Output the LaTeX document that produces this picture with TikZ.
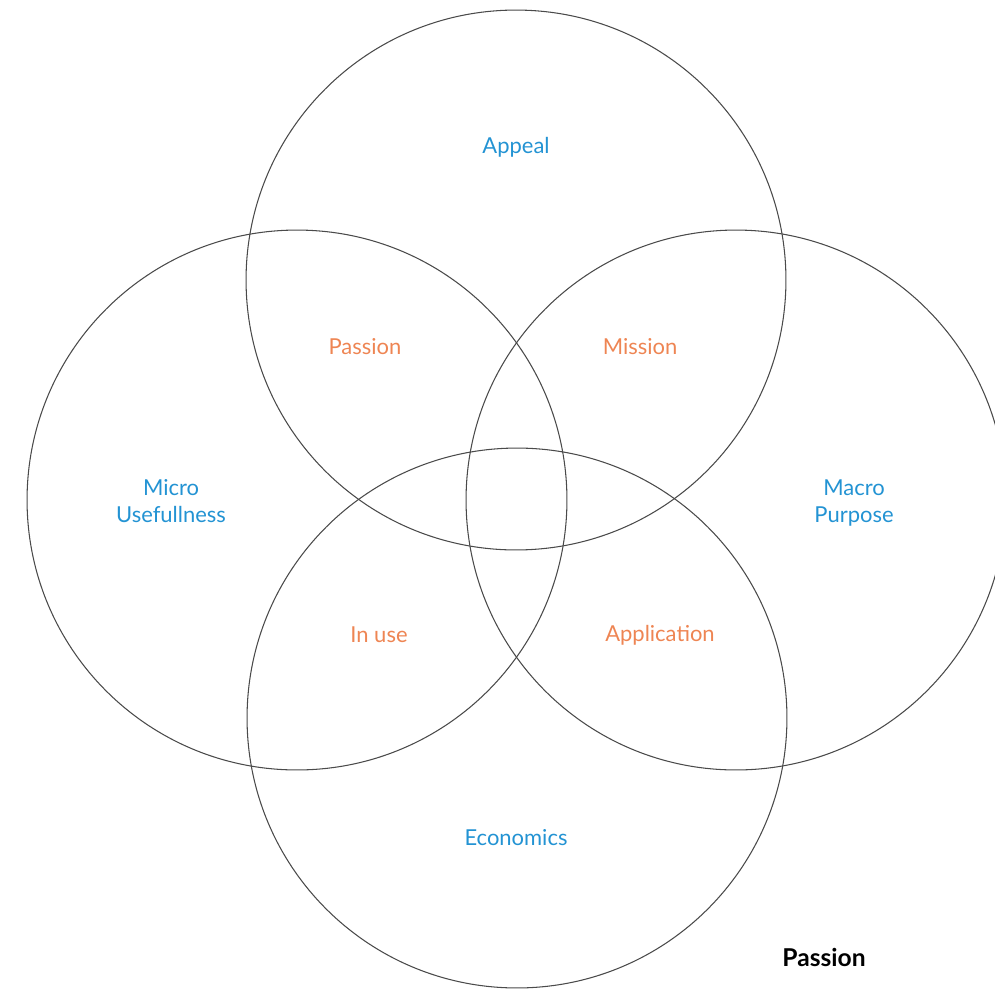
\documentclass[tikz,border=0pt]{standalone}
\usepackage{fontspec}
\setmainfont{Lato}
\usepackage{xcolor}
\definecolor{setblue}{HTML}{2393D3}
\definecolor{setorange}{HTML}{EE8553}
\definecolor{ringgray}{HTML}{4A4A4A}

\tikzset{
    ring/.style={circle, draw=ringgray, line width=0.6pt, minimum size=10.8cm, inner sep=0pt},
    setlabel/.style={text=setblue, font=\fontsize{12.5}{15.5}\selectfont, align=center},
    meetlabel/.style={text=setorange, font=\fontsize{12.5}{15.5}\selectfont},
    titlelabel/.style={text=black, font=\fontsize{14}{17}\selectfont\bfseries},
}

\begin{document}
\begin{tikzpicture}[x=0.02cm, y=-0.02cm]
    \useasboundingbox (0,0) rectangle (995,992);
    \clip (0,0) rectangle (995,992);

    % the four sets
    \node[ring] (top)    at (516,280) {};
    \node[ring] (left)   at (297,500) {};
    \node[ring] (right)  at (736,500) {};
    \node[ring] (bottom) at (517,718) {};

    \node[setlabel] (appeal) at (516,147) {Appeal};
    \node[setlabel] (micro)  at (171,501) {Micro\\Usefullness};
    \node[setlabel] (macro)  at (854,503) {Macro\\Purpose};
    \node[setlabel] (econ)   at (516,838) {Economics};

    % overlaps
    \node[meetlabel] (passion) at (365,347) {Passion};
    \node[meetlabel] (mission) at (640,347) {Mission};
    \node[meetlabel] (inuse)   at (379,635) {In use};
    \node[meetlabel] (applic)  at (660,635) {Application};

    \node[titlelabel] (title) at (824,957) {Passion};
\end{tikzpicture}
\end{document}
